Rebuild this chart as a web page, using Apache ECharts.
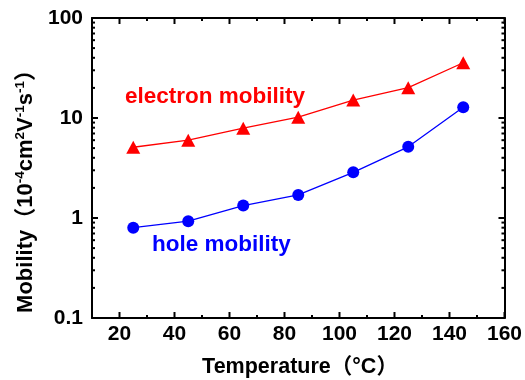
<!DOCTYPE html>
<html>
<head>
<meta charset="utf-8">
<script src="https://cdn.jsdelivr.net/npm/echarts@6/dist/echarts.min.js"></script>
<style>html,body{margin:0;padding:0;background:#fff}#c{width:525px;height:380px}</style>
</head>
<body>
<div id="c"></div>
<script>
var temperature = [25, 45, 65, 85, 105, 125, 145];
var electronMobility = [5.1, 6.0, 7.9, 10.2, 15.1, 20.1, 35.7];
var holeMobility = [0.80, 0.93, 1.33, 1.70, 2.86, 5.15, 12.8];
var xMajorTicks = [20, 40, 60, 80, 100, 120, 140, 160];
var xMinorTicks = [30, 50, 70, 90, 110, 130, 150];
var yMinorTicks = [0.2,0.3,0.4,0.5,0.6,0.7,0.8,0.9,2,3,4,5,6,7,8,9,20,30,40,50,60,70,80,90];
var X_MIN = 10, X_MAX = 160, Y_MIN = 0.1, Y_MAX = 100;

var FONT = '"Liberation Sans", Arial, "Noto Sans CJK SC", sans-serif';
var chart = echarts.init(document.getElementById('c'));

function xTickSeries(vals, len) {
  return {
    type: 'custom', silent: true, z: 5, xAxisIndex: 0, yAxisIndex: 0,
    data: vals.map(function (v) { return [v, 1]; }),
    encode: { x: 0, y: 1 },
    renderItem: function (params, api) {
      var x = api.value(0);
      var b = api.coord([x, Y_MIN]);
      var t = api.coord([x, Y_MAX]);
      var st = { stroke: '#000', lineWidth: 2 };
      return { type: 'group', children: [
        { type: 'line', shape: { x1: b[0], y1: b[1], x2: b[0], y2: b[1] - len }, style: st },
        { type: 'line', shape: { x1: t[0], y1: t[1], x2: t[0], y2: t[1] + len }, style: st }
      ]};
    }
  };
}
function yTickSeries(vals, len) {
  return {
    type: 'custom', silent: true, z: 5, xAxisIndex: 0, yAxisIndex: 0,
    data: vals.map(function (v) { return [X_MIN, v]; }),
    encode: { x: 0, y: 1 },
    renderItem: function (params, api) {
      var y = api.value(1);
      var l = api.coord([X_MIN, y]);
      var r = api.coord([X_MAX, y]);
      var st = { stroke: '#000', lineWidth: 2 };
      return { type: 'group', children: [
        { type: 'line', shape: { x1: l[0], y1: l[1], x2: l[0] + len, y2: l[1] }, style: st },
        { type: 'line', shape: { x1: r[0], y1: r[1], x2: r[0] - len, y2: r[1] }, style: st }
      ]};
    }
  };
}

var option = {
  animation: false,
  backgroundColor: '#fff',
  grid: { left: 92, right: 20, top: 18, bottom: 62, containLabel: false },
  xAxis: [
    { type: 'value', position: 'bottom', min: X_MIN, max: X_MAX, interval: 10,
      axisLine: { show: true, lineStyle: { color: '#000', width: 2 } },
      axisTick: { show: false }, splitLine: { show: false },
      axisLabel: { color: '#000', fontSize: 21, fontWeight: 'bold', fontFamily: FONT, margin: 6,
        formatter: function (v) { return v % 20 === 0 ? String(v) : ''; } } },
    { type: 'value', position: 'top', min: X_MIN, max: X_MAX, interval: 10,
      axisLine: { show: true, lineStyle: { color: '#000', width: 2 } },
      axisTick: { show: false }, axisLabel: { show: false }, splitLine: { show: false } }
  ],
  yAxis: [
    { type: 'log', logBase: 10, position: 'left', min: Y_MIN, max: Y_MAX,
      axisLine: { show: true, lineStyle: { color: '#000', width: 2 } },
      axisTick: { show: true, inside: true, length: 6, lineStyle: { color: '#000', width: 2 } },
      splitLine: { show: false }, minorTick: { show: false },
      axisLabel: { color: '#000', fontSize: 21, fontWeight: 'bold', fontFamily: FONT, margin: 9,
        formatter: function (v) { return String(+v.toPrecision(3)); } } },
    { type: 'log', logBase: 10, position: 'right', min: Y_MIN, max: Y_MAX,
      axisLine: { show: true, lineStyle: { color: '#000', width: 2 } },
      axisTick: { show: true, inside: true, length: 6, lineStyle: { color: '#000', width: 2 } },
      axisLabel: { show: false }, splitLine: { show: false } }
  ],
  graphic: [
    { type: 'text', x: 125, y: 97, silent: true,
      style: { text: 'electron mobility', fill: '#ff0000', font: 'bold 22.5px ' + FONT, verticalAlign: 'middle', align: 'left' } },
    { type: 'text', x: 152, y: 245, silent: true,
      style: { text: 'hole mobility', fill: '#0000ff', font: 'bold 22.5px ' + FONT, verticalAlign: 'middle', align: 'left' } },
    { type: 'text', x: 300, y: 367, silent: true,
      style: { text: 'Temperature（°C）', fill: '#000', font: 'bold 21.5px ' + FONT, verticalAlign: 'middle', align: 'center' } },
    { type: 'text', x: 26, y: 186, rotation: Math.PI / 2, silent: true,
      style: {
        text: '{n|Mobility（10}{s|-4}{n|cm}{s|2}{n|V}{s|-1}{n|s}{s|-1}{n|）}',
        align: 'center', verticalAlign: 'middle', fill: '#000',
        rich: {
          n: { fontSize: 22, fontWeight: 'bold', fontFamily: FONT, fill: '#000' },
          s: { fontSize: 13.5, fontWeight: 'bold', fontFamily: FONT, fill: '#000', padding: [0, 0, 11, 0] }
        }
      } }
  ],
  series: [
    { name: 'electron mobility', type: 'line', xAxisIndex: 0, yAxisIndex: 0,
      data: temperature.map(function (t, i) { return [t, electronMobility[i]]; }),
      symbol: 'triangle', symbolSize: [14, 13], z: 10,
      lineStyle: { color: '#ff0000', width: 1.3 }, itemStyle: { color: '#ff0000' } },
    { name: 'hole mobility', type: 'line', xAxisIndex: 0, yAxisIndex: 0,
      data: temperature.map(function (t, i) { return [t, holeMobility[i]]; }),
      symbol: 'circle', symbolSize: 12, z: 10,
      lineStyle: { color: '#0000ff', width: 1.3 }, itemStyle: { color: '#0000ff' } },
    xTickSeries(xMajorTicks, 6),
    xTickSeries(xMinorTicks, 3),
    yTickSeries(yMinorTicks, 3)
  ]
};
chart.setOption(option);
</script>
</body>
</html>
